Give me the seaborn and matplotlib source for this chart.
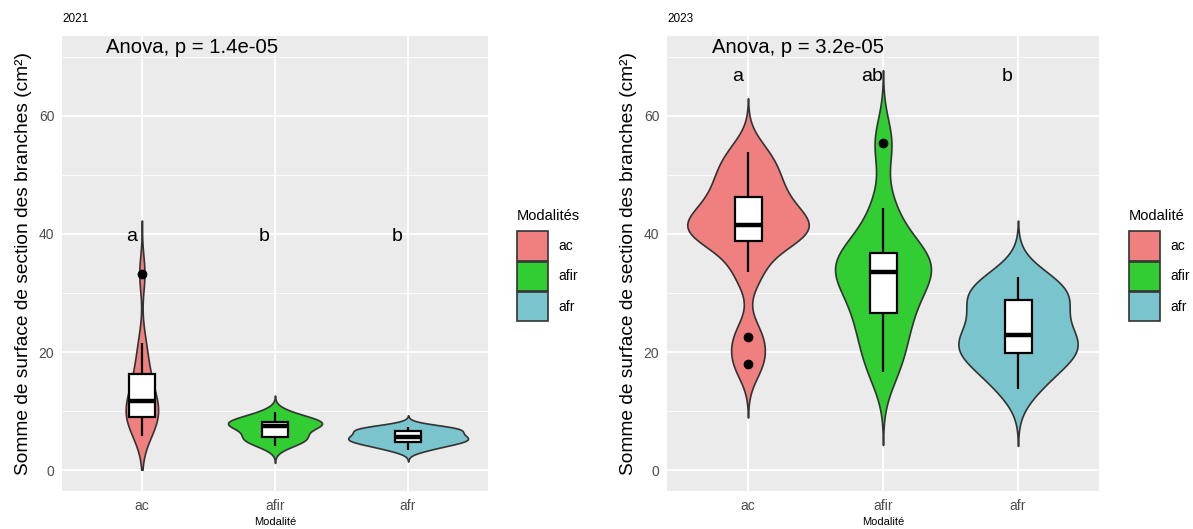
#! /usr/bin/env python3
"""
Violin + boxplot of branch section area per modality, 2021 vs 2023.
"""

import numpy as np
import pandas as pd
import matplotlib
matplotlib.use('Agg')
import matplotlib.pyplot as plt
from matplotlib.patches import Patch, Rectangle
from matplotlib.ticker import FixedLocator
import seaborn as sns

# ------------------------------
# Data
# ------------------------------

MODALITES = ['ac', 'afir', 'afr']
COLORS = ['#F08080', '#32CD32', '#7AC5CD']

AC_2021 = [5.8, 7.5, 8.6, 9.1, 10.2, 11.2, 12.2, 13.5, 15.8, 17.8, 21.5, 33.3]
AFIR_2021 = [4.1, 5.0, 5.4, 5.7, 6.6, 7.3, 7.7, 7.9, 8.1, 8.5, 8.9, 9.8]
AFR_2021 = [3.5, 4.2, 4.6, 4.9, 5.2, 5.5, 5.7, 6.1, 6.6, 7.0, 7.1, 7.3]

AC_2023 = [18.0, 22.5, 33.6, 38.8, 39.6, 40.4, 41.5, 42.6, 44.0, 46.3, 48.5, 51.0, 53.9]
AFIR_2023 = [16.6, 20.5, 24.0, 26.6, 29.5, 31.5, 33.6, 34.5, 35.5, 36.8, 39.0, 44.4, 55.4]
AFR_2023 = [13.7, 16.6, 18.6, 19.8, 20.9, 21.9, 22.9, 24.8, 27.3, 28.8, 29.9, 31.2, 32.7]

LETTERS_2021 = ['a', 'b', 'b']
LETTERS_2023 = ['a', 'ab', 'b']
LETTER_Y_2021 = 39.6
LETTER_Y_2023 = 66.6

ANOVA_2021 = 'Anova, p = 1.4e-05'
ANOVA_2023 = 'Anova, p = 3.2e-05'

YLABEL = 'Somme de surface de section des branches (cm²)'

FONT = ['Liberation Sans', 'DejaVu Sans']


def r_nrd0(kde):
    """Bandwidth factor mimicking R's bw.nrd0 (what ggplot uses)."""
    x = kde.dataset[0]
    sd = np.std(x, ddof=1)
    iqr = np.subtract(*np.percentile(x, [75, 25]))
    h = 0.9 * min(sd, iqr / 1.34) * len(x) ** -0.2
    return h / sd


def build_df(groups):
    rows = []
    for mod, values in zip(MODALITES, groups):
        for v in values:
            rows.append({'modalite': mod, 'somme': v})
    return pd.DataFrame(rows)


def draw_panel(ax, df, letters, letter_y, anova, year, legend_title, legend_x):
    sns.violinplot(
        data=df, x='modalite', y='somme', hue='modalite',
        order=MODALITES, hue_order=MODALITES, palette=COLORS,
        cut=3, bw_method=r_nrd0, density_norm='area', common_norm=True,
        inner=None, width=0.9, linewidth=1.2, linecolor='#333333',
        saturation=1, legend=False, ax=ax
    )
    # ggplot drops the density below the scale limit (0)
    clip = Rectangle((-1, 0), 5, 100, transform=ax.transData)
    for coll in ax.collections:
        coll.set_clip_path(clip)

    sns.boxplot(
        data=df, x='modalite', y='somme', order=MODALITES,
        width=0.2, color='white', linecolor='black', linewidth=1.6,
        saturation=1, fliersize=6,
        flierprops=dict(marker='o', markerfacecolor='black', markeredgecolor='black'),
        medianprops=dict(linewidth=3.2),
        capprops=dict(linewidth=0),
        ax=ax
    )

    ax.set_xlim(-0.6, 2.6)
    ax.set_ylim(-3.5, 73.5)
    ax.set_yticks([0, 20, 40, 60])
    ax.yaxis.set_minor_locator(FixedLocator([10, 30, 50, 70]))
    ax.grid(which='major', color='white', linewidth=1.3)
    ax.grid(which='minor', axis='y', color='white', linewidth=0.6)
    ax.set_axisbelow(True)
    for s in ax.spines.values():
        s.set_visible(False)

    ax.tick_params(axis='both', which='major', length=3.5, width=1.1, color='#333333',
                   labelcolor='#4D4D4D', labelsize=10, pad=2)
    ax.tick_params(axis='y', which='minor', length=0)

    ax.set_xlabel('Modalité', fontsize=8, labelpad=3, color='black')
    ax.set_ylabel(YLABEL, fontsize=13.8, labelpad=5, color='black')
    ax.set_title(year, loc='left', fontsize=8.5, pad=10, color='black')

    for i, lab in enumerate(letters):
        ax.text(i - 0.08, letter_y, lab, ha='center', va='center', fontsize=14, color='black')
    ax.text(-0.27, 71.5, anova, ha='left', va='center', fontsize=14.6, color='black')

    handles = [Patch(facecolor=c, edgecolor='#333333', linewidth=1.2) for c in COLORS]
    leg = ax.figure.legend(
        handles, MODALITES, title=legend_title, loc='upper left',
        bbox_to_anchor=(legend_x, 1 - 209 / 529), frameon=False,
        fontsize=10, title_fontsize=10.5, handlelength=2.2, handleheight=2.9,
        labelspacing=0.05, handletextpad=0.8, borderaxespad=0, borderpad=0
    )
    leg._legend_box.align = 'left'
    leg._legend_box.sep = 6
    leg.get_title().set_color('black')
    for t in leg.get_texts():
        t.set_color('black')


def main():
    sns.set_theme(style='darkgrid', rc={
        'axes.facecolor': '#EBEBEB',
        'figure.facecolor': 'white',
        'grid.color': 'white',
    })
    plt.rcParams['font.family'] = FONT

    fig = plt.figure(figsize=(11.93, 5.29), dpi=100)
    ax1 = fig.add_axes([62 / 1193, 1 - 491 / 529, 426 / 1193, 455 / 529])
    ax2 = fig.add_axes([667 / 1193, 1 - 491 / 529, 432 / 1193, 455 / 529])

    df21 = build_df([AC_2021, AFIR_2021, AFR_2021])
    df23 = build_df([AC_2023, AFIR_2023, AFR_2023])

    draw_panel(ax1, df21, LETTERS_2021, LETTER_Y_2021, ANOVA_2021, '2021',
               'Modalités', 517 / 1193)
    draw_panel(ax2, df23, LETTERS_2023, LETTER_Y_2023, ANOVA_2023, '2023',
               'Modalité', 1129 / 1193)

    fig.savefig('out.png', dpi=100)


if __name__ == '__main__':
    main()
